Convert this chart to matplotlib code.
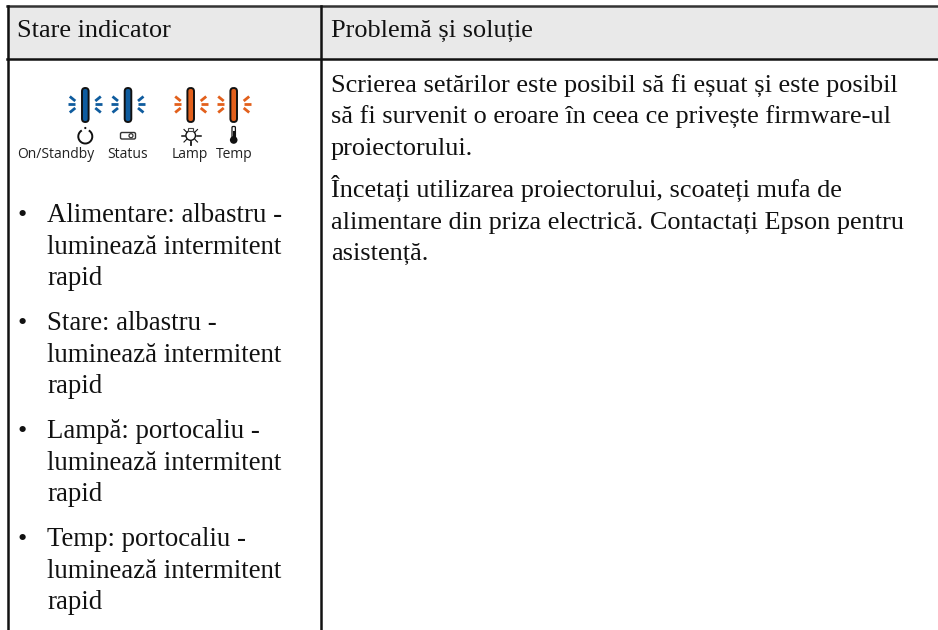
import matplotlib
matplotlib.use("Agg")
import matplotlib.pyplot as plt
from matplotlib.patches import Arc, FancyBboxPatch, Rectangle, Circle

headers = ["Stare indicator", "Problemă și soluție"]
right_lines = [
    "Scrierea setărilor este posibil să fi eșuat și este posibil",
    "să fi survenit o eroare în ceea ce privește firmware-ul",
    "proiectorului.",
    "Încetați utilizarea proiectorului, scoateți mufa de",
    "alimentare din priza electrică. Contactați Epson pentru",
    "asistență.",
]
right_y = [93, 124, 155, 197, 229, 260]
bullets = [
    ["Alimentare: albastru -", "luminează intermitent", "rapid"],
    ["Stare: albastru -", "luminează intermitent", "rapid"],
    ["Lampă: portocaliu -", "luminează intermitent", "rapid"],
    ["Temp: portocaliu -", "luminează intermitent", "rapid"],
]
bullet_y = [222, 330, 438, 546]
ind_names = ["On/Standby", "Status", "Lamp", "Temp"]
ind_name_x = [56, 128, 190, 234]
ind_x = [85.3, 128, 190.7, 233.7]
ind_colors = ["#0f5c9e", "#0f5c9e", "#e2601c", "#e2601c"]

SERIF = "Liberation Serif"
FS = 18.9
FS_LEFT = 19.4
INK = "#111111"


def indicator(ax, x, color):
    ax.add_patch(FancyBboxPatch((x - 3.3, 88), 6.6, 34, boxstyle="round,pad=0,rounding_size=3.3",
                                fc=color, ec=INK, lw=1.4))
    # little flash ticks either side of the lamp
    for side in (-1, 1):
        ax.plot([x + side * 10, x + side * 17], [104, 104], color=color, lw=2, solid_capstyle="butt")
        ax.plot([x + side * 10, x + side * 15.5], [101, 96.5], color=color, lw=2, solid_capstyle="butt")
        ax.plot([x + side * 10, x + side * 15.5], [108, 112.5], color=color, lw=2, solid_capstyle="butt")


def draw_icons(ax):
    # power
    ax.add_patch(Arc((85.3, 136.5), 14, 14, theta1=-60, theta2=240, color=INK, lw=1.4))
    ax.add_patch(Circle((85.3, 128), 1.1, fc=INK, ec="none"))
    # projector
    ax.add_patch(FancyBboxPatch((120.5, 132.5), 15, 6.5, boxstyle="round,pad=0,rounding_size=1.5",
                                fc="white", ec="#333333", lw=1.0))
    ax.add_patch(Circle((131, 135.7), 2, fc="white", ec="#333333", lw=0.9))
    # lamp
    ax.add_patch(Circle((190.7, 135.5), 4.8, fc="white", ec=INK, lw=1.0))
    ax.add_patch(Rectangle((188.2, 127.5), 5, 3.5, fc="white", ec="#444444", lw=0.8))
    ax.plot([181.5, 185], [135.5, 135.5], color=INK, lw=1.1)
    ax.plot([196.5, 200.5], [135.5, 135.5], color=INK, lw=1.1)
    ax.plot([190.7, 190.7], [141.5, 144.5], color=INK, lw=1.3)
    ax.plot([184, 186.5], [129.5, 132], color=INK, lw=0.8)
    ax.plot([197.5, 195], [129.5, 132], color=INK, lw=0.8)
    ax.plot([184, 186.5], [142, 139.5], color=INK, lw=0.8)
    ax.plot([197.5, 195], [142, 139.5], color=INK, lw=0.8)
    # thermometer
    ax.add_patch(FancyBboxPatch((232, 126.5), 3.4, 11, boxstyle="round,pad=0,rounding_size=1",
                                fc="white", ec=INK, lw=0.9))
    ax.plot([233.7, 233.7], [132, 138], color=INK, lw=2.2)
    ax.add_patch(Circle((233.7, 140), 3.8, fc=INK, ec="none"))


def main():
    fig = plt.figure(figsize=(9.38, 6.30), dpi=100)
    ax = fig.add_axes([0, 0, 1, 1])
    ax.set_xlim(0, 938)
    ax.set_ylim(630, 0)
    ax.axis("off")

    # table frame
    ax.add_patch(Rectangle((7, 6), 931, 53, fc="#e9e9e9", ec="none"))
    ax.plot([7, 938], [6, 6], color="#333333", lw=1.8)
    ax.plot([7, 938], [59, 59], color=INK, lw=1.8)
    ax.plot([7.5, 7.5], [6, 630], color=INK, lw=1.8)
    ax.plot([321, 321], [6, 630], color=INK, lw=1.8)

    ax.text(17, 37, headers[0], family=SERIF, fontsize=FS, va="baseline", color=INK)
    ax.text(331, 37, headers[1], family=SERIF, fontsize=FS, va="baseline", color=INK)

    for line, y in zip(right_lines, right_y):
        ax.text(331, y, line, family=SERIF, fontsize=FS, va="baseline", color=INK)

    for x, color in zip(ind_x, ind_colors):
        indicator(ax, x, color)
    draw_icons(ax)

    for name, x in zip(ind_names, ind_name_x):
        ax.text(x, 155, name, family="Open Sans", fontsize=10, ha="center", va="center", color="#222222")

    for lines, y0 in zip(bullets, bullet_y):
        ax.text(22, y0, "•", family=SERIF, fontsize=FS, ha="center", va="baseline", color=INK)
        for i, line in enumerate(lines):
            ax.text(47, y0 + i * 31.5, line, family=SERIF, fontsize=FS_LEFT, va="baseline", color=INK)

    fig.savefig("out.png", dpi=100)


if __name__ == "__main__":
    main()
